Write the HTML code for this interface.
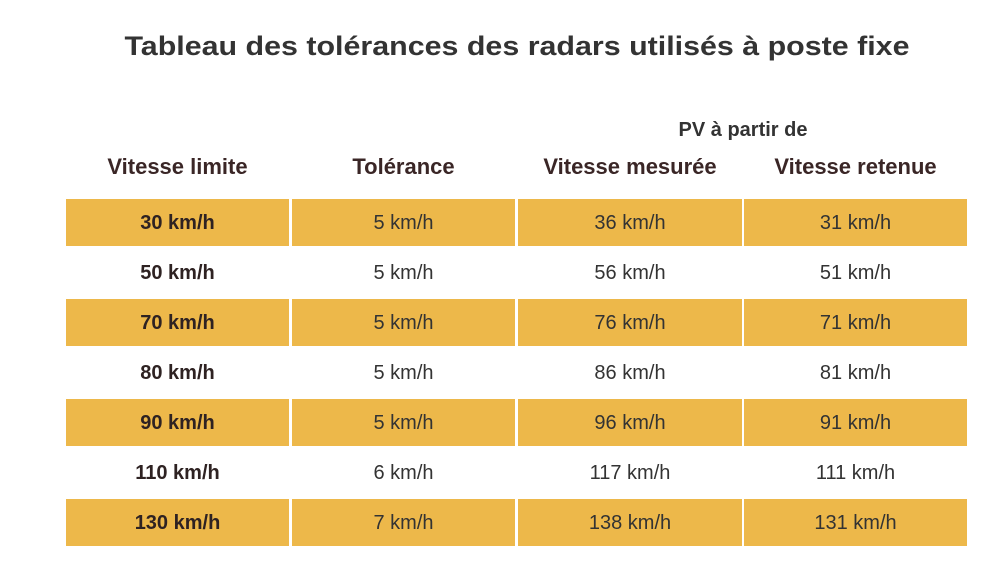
<!DOCTYPE html>
<html><head><meta charset="utf-8"><style>
html,body{margin:0;padding:0;background:#fff;}
svg{display:block;font-family:"Liberation Sans",Arial,sans-serif;}
</style></head><body>
<svg id="c" width="1000" height="581" viewBox="0 0 1000 581">
<text x="517" y="55" text-anchor="middle" font-size="27" font-weight="bold" fill="#333" textLength="785" lengthAdjust="spacingAndGlyphs">Tableau des tolérances des radars utilisés à poste fixe</text>
<text x="743" y="136" text-anchor="middle" font-size="20" font-weight="bold" fill="#333">PV à partir de</text>
<g id="rows"></g>
</svg>
<script>
const limits=["30 km/h","50 km/h","70 km/h","80 km/h","90 km/h","110 km/h","130 km/h"];
const tolerances=["5 km/h","5 km/h","5 km/h","5 km/h","5 km/h","6 km/h","7 km/h"];
const measured=["36 km/h","56 km/h","76 km/h","86 km/h","96 km/h","117 km/h","138 km/h"];
const retained=["31 km/h","51 km/h","71 km/h","81 km/h","91 km/h","111 km/h","131 km/h"];
const headers=["Vitesse limite","Tolérance","Vitesse mesurée","Vitesse retenue"];
const NS="http://www.w3.org/2000/svg";
const g=document.getElementById('rows');
const cols=[[66,289],[292,515],[518,742],[744,967]];
function txt(x,y,s,size,bold,fill,name){
  const t=document.createElementNS(NS,'text');
  t.setAttribute('x',x);t.setAttribute('y',y);t.setAttribute('text-anchor','middle');
  t.setAttribute('font-size',size);if(bold)t.setAttribute('font-weight','bold');
  t.setAttribute('fill',fill);t.textContent=s;
  
  
  g.appendChild(t);
}
headers.forEach((h,i)=>{
  const cx=(cols[i][0]+cols[i][1])/2;
  txt(cx,174,h,22,true,'#3a2626','column-header');
});
const data=[limits,tolerances,measured,retained];
limits.forEach((_,r)=>{
  const y0=199+r*50;
  if(r%2===0){
    cols.forEach(c=>{
      const rc=document.createElementNS(NS,'rect');
      rc.setAttribute('x',c[0]);rc.setAttribute('y',y0);
      rc.setAttribute('width',c[1]-c[0]);rc.setAttribute('height',47);
      rc.setAttribute('fill','#edb84a');
      
      
      g.appendChild(rc);
    });
  }
  cols.forEach((c,i)=>{
    txt((c[0]+c[1])/2,y0+30,data[i][r],20,i===0,i===0?'#2e2222':'#333','table-cell');
  });
});
</script>
</body></html>
